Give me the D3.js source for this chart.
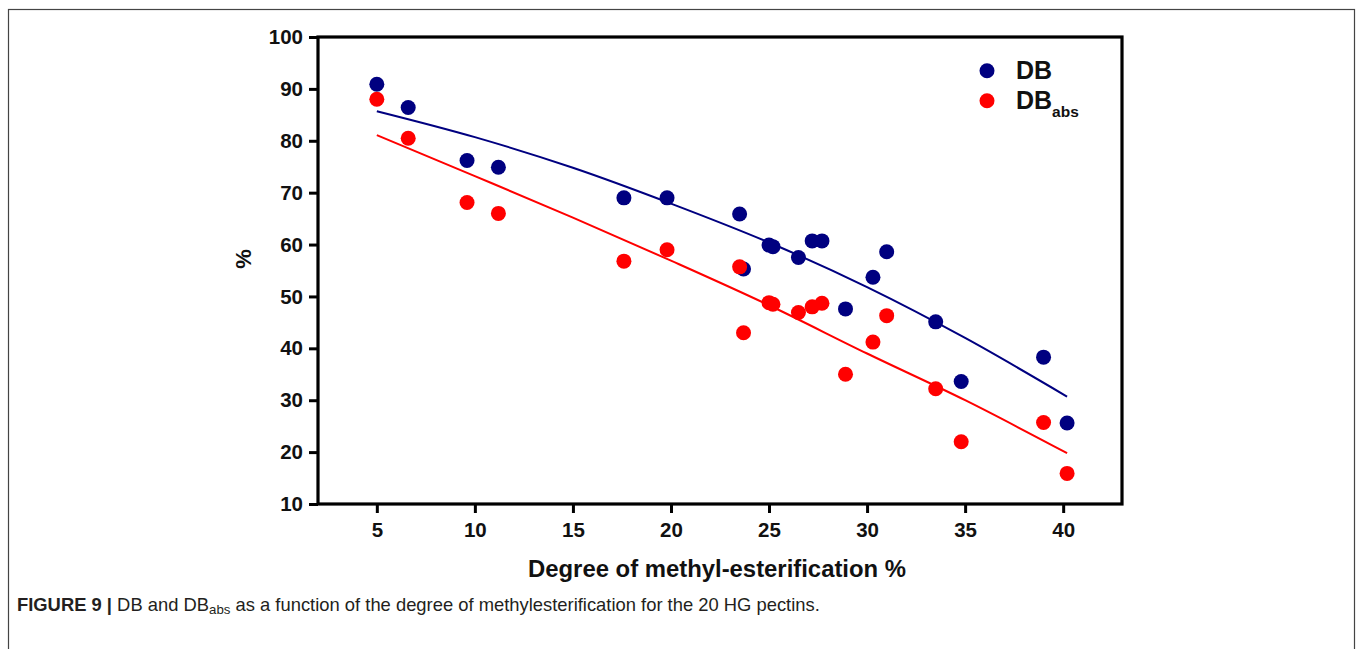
<!DOCTYPE html>
<html>
<head>
<meta charset="utf-8">
<script src="https://cdn.jsdelivr.net/npm/d3@7"></script>
<style>
  html, body { margin: 0; padding: 0; background: #fff; }
  svg { display: block; font-family: "Liberation Sans", Arial, Helvetica, sans-serif; }
</style>
</head>
<body>
<svg id="chart" width="1360" height="649"></svg>
<script>
// ---- data ----
const degreeME = [5.0, 6.6, 9.6, 11.2, 17.6, 19.8, 23.5, 23.7, 25.0, 25.2, 26.5, 27.2, 27.7, 28.9, 30.3, 31.0, 33.5, 34.8, 39.0, 40.2];
const dbValues = [90.9, 86.4, 76.2, 74.9, 69.0, 69.0, 65.9, 55.3, 59.9, 59.6, 57.5, 60.7, 60.7, 47.6, 53.7, 58.6, 45.1, 33.6, 38.3, 25.6];
const dbAbsValues = [88.0, 80.5, 68.1, 66.0, 56.8, 59.0, 55.7, 43.0, 48.8, 48.5, 46.9, 48.0, 48.7, 35.0, 41.2, 46.3, 32.2, 22.0, 25.7, 15.9];
// fitted curves
const fitX = [5, 10, 15, 20, 25, 30, 35, 40.2];
const dbFit = [85.7, 80.7, 74.8, 67.9, 60.4, 51.8, 42.0, 30.7];
const dbAbsFit = [81.1, 73.2, 65.2, 56.9, 48.3, 39.0, 30.0, 19.8];
const xTicks = [5, 10, 15, 20, 25, 30, 35, 40];
const yTicks = [10, 20, 30, 40, 50, 60, 70, 80, 90, 100];
const seriesNames = ["DB", "DB"];
const seriesSubs = ["", "abs"];
const seriesColors = ["#000080", "#ff0000"];
const xTitle = "Degree of methyl-esterification %";
const yTitle = "%";

// ---- layout ----
const svg = d3.select("#chart");
const L = 318, R = 1122, T = 37, B = 504;
const x = d3.scaleLinear().domain([2, 43]).range([L, R]);
const y = d3.scaleLinear().domain([10, 100]).range([B, T]);

// outer figure frame
svg.append("rect").attr("x", 8.5).attr("y", 9.5).attr("width", 1346).attr("height", 700)
  .attr("fill", "none").attr("stroke", "#444").attr("stroke-width", 1.2);

// fit lines
const line = d3.line().x(d => x(d[0])).y(d => y(d[1])).curve(d3.curveMonotoneX);
[dbFit, dbAbsFit].forEach((vals, i) => {
  svg.append("path").datum(fitX.map((v, j) => [v, vals[j]]))
    .attr("d", line).attr("fill", "none").attr("stroke", seriesColors[i]).attr("stroke-width", 2);
});

// points
[dbValues, dbAbsValues].forEach((vals, i) => {
  svg.append("g").selectAll("circle").data(degreeME.map((v, j) => [v, vals[j]]))
    .join("circle").attr("cx", d => x(d[0])).attr("cy", d => y(d[1])).attr("r", 7.5)
    .attr("fill", seriesColors[i]);
});

// axes
const xAxis = d3.axisBottom(x).tickValues(xTicks).tickSize(9).tickPadding(9).tickSizeOuter(0);
const yAxis = d3.axisLeft(y).tickValues(yTicks).tickSize(9).tickPadding(6).tickSizeOuter(0);
const gx = svg.append("g").attr("transform", `translate(0,${B})`).call(xAxis);
const gy = svg.append("g").attr("transform", `translate(${L},0)`).call(yAxis);
[gx, gy].forEach(g => {
  g.select(".domain").remove();
  g.selectAll(".tick line").attr("stroke", "#000").attr("stroke-width", 3);
  g.selectAll(".tick text").attr("fill", "#111").attr("font-size", 20.5).attr("font-weight", "bold")
    .attr("font-family", "'Liberation Sans', Arial, sans-serif");
});
// plot box
svg.append("rect").attr("x", L).attr("y", T).attr("width", R - L).attr("height", B - T)
  .attr("fill", "none").attr("stroke", "#000").attr("stroke-width", 3.2);

// axis titles
svg.append("text").attr("x", (528 + 906) / 2).attr("y", 577).attr("text-anchor", "middle")
  .attr("font-size", 23).attr("font-weight", "bold").attr("fill", "#111")
  .attr("textLength", 378).attr("lengthAdjust", "spacingAndGlyphs").text(xTitle);
svg.append("text").attr("transform", "translate(251,259) rotate(-90)").attr("text-anchor", "middle")
  .attr("font-size", 22).attr("font-weight", "bold").attr("fill", "#111").text(yTitle);

// legend
seriesNames.forEach((name, i) => {
  const cy = 70.7 + i * 30;
  svg.append("circle").attr("cx", 987).attr("cy", cy).attr("r", 7.5).attr("fill", seriesColors[i]);
  const t = svg.append("text").attr("x", 1016).attr("y", cy + 8.5)
    .attr("font-size", 25).attr("font-weight", "bold").attr("fill", "#111").text(name);
  if (seriesSubs[i]) {
    t.append("tspan").attr("dy", 8).attr("font-size", 15.5).text(seriesSubs[i]);
  }
});

// caption
const cap = svg.append("text").attr("x", 0).attr("y", 0).attr("font-size", 18).attr("fill", "#231f20");
cap.append("tspan").attr("font-weight", "bold").text("FIGURE 9 | ");
cap.append("tspan").text("DB and DB");
cap.append("tspan").attr("dy", 3).attr("font-size", 13).text("abs");
cap.append("tspan").attr("dy", -3).text(" as a function of the degree of methylesterification for the 20 HG pectins.");
const w = cap.node().getComputedTextLength();
const sx = (820 - 17) / w;
cap.attr("transform", `translate(17,611) scale(${sx},1)`);
</script>
</body>
</html>
